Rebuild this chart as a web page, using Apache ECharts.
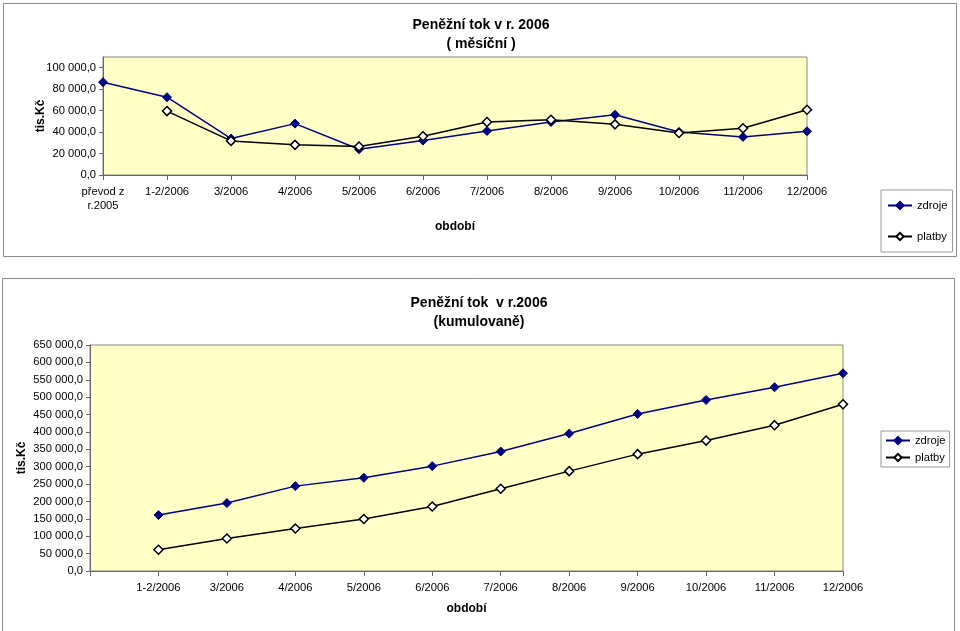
<!DOCTYPE html>
<html>
<head>
<meta charset="utf-8">
<script src="https://cdn.jsdelivr.net/npm/echarts@6/dist/echarts.min.js"></script>
<style>html,body{margin:0;padding:0;background:#fff}#c{width:960px;height:631px}</style>
</head>
<body>
<div id="c"></div>
<script>
// ---- data ----
var catsMonthly = ['převod z\nr.2005','1-2/2006','3/2006','4/2006','5/2006','6/2006','7/2006','8/2006','9/2006','10/2006','11/2006','12/2006'];
var zdrojeMonthly = [86500, 72500, 34000, 47900, 24000, 32100, 41000, 49400, 56200, 40100, 35500, 40700];
var platbyMonthly = [null, 59600, 31800, 28100, 26500, 36100, 49400, 51500, 47200, 39200, 43500, 60800];

var catsCum = ['','1-2/2006','3/2006','4/2006','5/2006','6/2006','7/2006','8/2006','9/2006','10/2006','11/2006','12/2006'];
var zdrojeCum = [null, 160900, 195300, 244100, 268000, 301600, 343600, 395200, 451800, 492000, 528500, 568700];
var platbyCum = [null, 61200, 93600, 122400, 149400, 185600, 236400, 287200, 336100, 375100, 419400, 479700];

var titleTop = 'Peněžní tok v r. 2006\n( měsíční )';
var titleBottom = 'Peněžní tok  v r.2006\n(kumulovaně)';

// ---- chart ----
var FONT = 'Liberation Sans, Arial, sans-serif';
var FS = 11.2;
function fmt(v){ return String(Math.round(v)).replace(/\B(?=(\d{3})+(?!\d))/g,' ') + ',0'; }
var chart = echarts.init(document.getElementById('c'), null, {renderer:'canvas'});

function yAxis(gi, max, interval, gap, showMax){
  return {
    type:'value', gridIndex:gi, min:0, max:max, interval:interval,
    name:'tis.Kč', nameLocation:'middle', nameRotate:90, nameGap:gap, nameMoveOverlap:false,
    nameTextStyle:{fontFamily:FONT, fontSize:12, fontWeight:'bold', color:'#000'},
    axisLine:{show:true, lineStyle:{color:'#666'}},
    axisTick:{show:true, length:4, lineStyle:{color:'#666'}},
    splitLine:{show:false},
    axisLabel:{fontFamily:FONT, fontSize:FS, color:'#000', margin:7, formatter:fmt, showMaxLabel:showMax}
  };
}
function xAxis(gi, cats, gap){
  return {
    type:'category', gridIndex:gi, data:cats, boundaryGap:false,
    name:'období', nameLocation:'middle', nameGap:gap,
    nameTextStyle:{fontFamily:FONT, fontSize:12, fontWeight:'bold', color:'#000'},
    axisLine:{show:true, lineStyle:{color:'#666'}},
    axisTick:{show:true, length:5, alignWithLabel:true, lineStyle:{color:'#666'}},
    splitLine:{show:false},
    axisLabel:{fontFamily:FONT, fontSize:FS, color:'#000', margin:10, interval:0, lineHeight:14}
  };
}
function lineSeries(name, xi, yi, data, filled){
  return {
    name:name, type:'line', xAxisIndex:xi, yAxisIndex:yi, data:data,
    symbol:'diamond', symbolSize:9, showAllSymbol:true, connectNulls:false,
    lineStyle:{color: filled ? '#000080' : '#000000', width:1.5},
    itemStyle:{color: filled ? '#000080' : '#ffffff', borderColor: filled ? '#000080' : '#000000', borderWidth: filled ? 1 : 1.5},
    emphasis:{disabled:true}, animation:false
  };
}

var option = {
  animation:false,
  backgroundColor:'#ffffff',
  textStyle:{fontFamily:FONT},
  title:[
    {text:titleTop, left:481, top:16, padding:0, textAlign:'center',
     textStyle:{fontFamily:FONT, fontSize:14, fontWeight:'bold', color:'#000', lineHeight:19}},
    {text:titleBottom, left:479, top:294, padding:0, textAlign:'center',
     textStyle:{fontFamily:FONT, fontSize:14, fontWeight:'bold', color:'#000', lineHeight:19}}
  ],
  legend:[
    {data:['zdroje','platby'], left:881, top:190, orient:'vertical', padding:[10,5,10,6], itemGap:20,
     itemWidth:24, itemHeight:9, borderColor:'#999', borderWidth:1, backgroundColor:'#fff',
     textStyle:{fontFamily:FONT, fontSize:FS, color:'#000'}, selectedMode:false},
    {data:['zdroje ','platby '], left:881, top:431, orient:'vertical', padding:[4,1,4,4], itemGap:6,
     itemWidth:24, itemHeight:9, borderColor:'#999', borderWidth:1, backgroundColor:'#fff',
     textStyle:{fontFamily:FONT, fontSize:FS, color:'#000'}, selectedMode:false}
  ],
  grid:[
    {left:103, top:57, width:704, height:118, show:true, backgroundColor:'#ffffc6', borderColor:'#888', borderWidth:1},
    {left:90, top:345, width:753, height:226, show:true, backgroundColor:'#ffffc6', borderColor:'#888', borderWidth:1}
  ],
  xAxis:[ xAxis(0, catsMonthly, 46), xAxis(1, catsCum, 32) ],
  yAxis:[ yAxis(0, 110000, 20000, 56, false), yAxis(1, 650000, 50000, 62, true) ],
  series:[
    lineSeries('zdroje', 0, 0, zdrojeMonthly, true),
    lineSeries('platby', 0, 0, platbyMonthly, false),
    lineSeries('zdroje ', 1, 1, zdrojeCum, true),
    lineSeries('platby ', 1, 1, platbyCum, false)
  ],
  graphic:[
    {type:'rect', silent:true, z:-10, shape:{x:3.5, y:3.5, width:953, height:253}, style:{fill:null, stroke:'#8a8a8a', lineWidth:1}},
    {type:'rect', silent:true, z:-10, shape:{x:2.5, y:278.5, width:952, height:370}, style:{fill:null, stroke:'#8a8a8a', lineWidth:1}}
  ]
};
chart.setOption(option);
</script>
</body>
</html>
